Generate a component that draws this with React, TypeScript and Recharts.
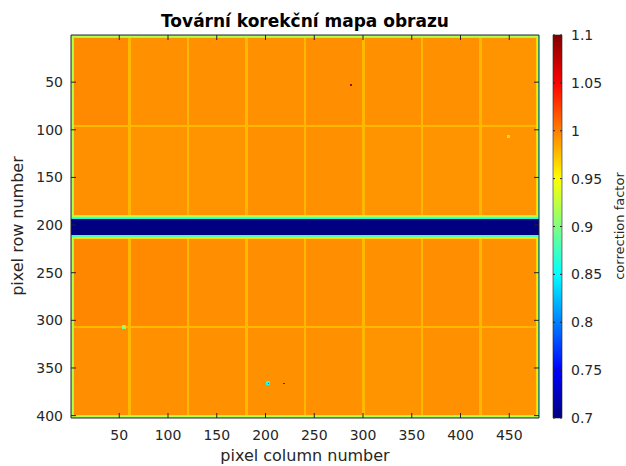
import React from 'react';
import { ComposedChart, XAxis, YAxis, ReferenceArea, Scatter } from 'recharts';

// image size (pixels of the sensor map)
const nCols = 480;
const nRows = 402;

const xTicks = [50, 100, 150, 200, 250, 300, 350, 400, 450];
const yTicks = [50, 100, 150, 200, 250, 300, 350, 400];
const cbTicks = [0.7, 0.75, 0.8, 0.85, 0.9, 0.95, 1, 1.05, 1.1];

// sensor tiles: column edges, row blocks, mean correction per tile
const tileColEdges = [0.5, 60.5, 120.5, 180.5, 240.5, 300.5, 360.5, 420.5, 480.5];
const tileRowBlocks = [
  [0.5, 96.5],
  [96.5, 192.5],
  [211.5, 307.5],
  [307.5, 402.5],
];
const tileValues = [
  [0.996, 0.993, 0.993, 0.993, 0.994, 0.993, 0.993, 0.992],
  [0.993, 0.992, 0.992, 0.993, 0.993, 0.992, 0.992, 0.992],
  [0.997, 0.996, 0.994, 0.994, 0.994, 0.993, 0.994, 0.993],
  [0.994, 0.993, 0.993, 0.993, 0.993, 0.992, 0.993, 0.992],
];

// seams between tiles
const seamCols = [60, 120, 180, 240, 300, 360, 420];
const seamRows = [96, 307];
const seamValue = 0.978;

// two image halves and the blind band between them
const halves = [
  [0.5, 192.5],
  [211.5, 402.5],
];
const bandRows = [192.5, 193.5, 210.5, 211.5];
const bandValues = [0.86, 0.7, 0.88];

// correction per pixel from the image border inwards
const edgeValues = [0.88, 0.92, 0.965];

// isolated defective pixels
const defects = [
  { col: 449, row: 107, size: 3, value: 0.965 },
  { col: 55, row: 307, size: 4, value: 0.9 },
  { col: 55, row: 307, size: 2, value: 0.96 },
  { col: 203, row: 366, size: 4, value: 0.86 },
  { col: 203, row: 366, size: 1.5, value: 0.78 },
  { col: 288, row: 53, size: 2, value: 1.08 },
  { col: 219, row: 366, size: 1.5, value: 1.07 },
];

const ink = '#262626';
const font = 'DejaVu Sans, sans-serif';

const clamp = (v: number) => Math.max(0, Math.min(1, v));
const jet = (v: number) => {
  const t = clamp((v - 0.7) / 0.4);
  const r = Math.round(255 * clamp(1.5 - Math.abs(4 * t - 3)));
  const g = Math.round(255 * clamp(1.5 - Math.abs(4 * t - 2)));
  const b = Math.round(255 * clamp(1.5 - Math.abs(4 * t - 1)));
  return `rgb(${r},${g},${b})`;
};

type Cell = { x1: number; x2: number; y1: number; y2: number; v: number };

const buildCells = (): Cell[] => {
  const cells: Cell[] = [];
  tileRowBlocks.forEach(([y1, y2], i) => {
    for (let j = 0; j < tileColEdges.length - 1; j++) {
      cells.push({ x1: tileColEdges[j], x2: tileColEdges[j + 1], y1, y2, v: tileValues[i][j] });
    }
  });
  halves.forEach(([y1, y2]) => {
    seamCols.forEach((c) => cells.push({ x1: c - 0.8, x2: c + 1.8, y1, y2, v: seamValue }));
  });
  seamRows.forEach((r) => cells.push({ x1: 0.5, x2: nCols + 0.5, y1: r - 0.8, y2: r + 1.3, v: seamValue }));
  // border falloff, innermost first so the outer pixels end on top
  for (let k = edgeValues.length - 1; k >= 0; k--) {
    const v = edgeValues[k];
    halves.forEach(([y1, y2]) => {
      cells.push({ x1: 0.5 + k, x2: 1.5 + k, y1, y2, v });
      cells.push({ x1: nCols - 0.5 - k, x2: nCols + 0.5 - k, y1, y2, v });
      cells.push({ x1: 0.5, x2: nCols + 0.5, y1: y1 + k, y2: y1 + k + 1, v });
      cells.push({ x1: 0.5, x2: nCols + 0.5, y1: y2 - k - 1, y2: y2 - k, v });
    });
  }
  for (let i = 0; i < bandValues.length; i++) {
    cells.push({ x1: 0.5, x2: nCols + 0.5, y1: bandRows[i], y2: bandRows[i + 1], v: bandValues[i] });
  }
  defects.forEach((d) =>
    cells.push({
      x1: d.col - d.size / 2,
      x2: d.col + d.size / 2,
      y1: d.row - d.size / 2,
      y2: d.row + d.size / 2,
      v: d.value,
    })
  );
  return cells;
};

const cells = buildCells();
const corners = [
  { x: 0.5, y: 0.5 },
  { x: nCols + 0.5, y: nRows + 0.5 },
];
const cbCorners = [
  { x: 0, y: 0.7 },
  { x: 1, y: 1.1 },
];

const BottomTick = ({ x, y, payload }: any) => (
  <g>
    <line x1={x} y1={y} x2={x} y2={y - 5} stroke={ink} strokeWidth={1} />
    <text x={x} y={y + 22} textAnchor="middle" fill={ink} fontSize={14} fontFamily={font}>
      {payload.value}
    </text>
  </g>
);
const TopTick = ({ x, y }: any) => <line x1={x} y1={y} x2={x} y2={y + 5} stroke={ink} strokeWidth={1} />;
const LeftTick = ({ x, y, payload }: any) => (
  <g>
    <line x1={x} y1={y} x2={x + 5} y2={y} stroke={ink} strokeWidth={1} />
    <text x={x - 8} y={y + 5} textAnchor="end" fill={ink} fontSize={14} fontFamily={font}>
      {payload.value}
    </text>
  </g>
);
const RightTick = ({ x, y }: any) => <line x1={x} y1={y} x2={x - 5} y2={y} stroke={ink} strokeWidth={1} />;
const ColorbarTick = ({ x, y, payload }: any) => (
  <g>
    <line x1={x} y1={y} x2={x - 2} y2={y} stroke={ink} strokeWidth={1} />
    <line x1={x - 9} y1={y} x2={x - 7} y2={y} stroke={ink} strokeWidth={1} />
    <text x={x + 9} y={y + 5} textAnchor="start" fill={ink} fontSize={14} fontFamily={font}>
      {payload.value}
    </text>
  </g>
);

const abs: React.CSSProperties = { position: 'absolute', left: 0, top: 0 };

export default function App() {
  return (
    <div style={{ position: 'fixed', left: 0, top: 0, width: 626, height: 466, background: '#fff' }}>
      <div style={abs}>
        <ComposedChart width={626} height={466} margin={{ top: 34, right: 86, bottom: 0, left: 0 }}>
          {cells.map((c, i) => (
            <ReferenceArea
              key={i}
              x1={c.x1}
              x2={c.x2}
              y1={c.y1}
              y2={c.y2}
              fill={jet(c.v)}
              fillOpacity={1}
              stroke="none"
              ifOverflow="hidden"
              shapeRendering="crispEdges"
            />
          ))}
          <Scatter data={corners} dataKey="y" isAnimationActive={false} shape={() => <g />} />
          <XAxis
            type="number"
            dataKey="x"
            domain={[0.5, nCols + 0.5]}
            ticks={xTicks}
            allowDataOverflow
            height={48}
            tickSize={0}
            tickMargin={0}
            tickLine={false}
            tick={<BottomTick />}
            axisLine={{ stroke: ink }}
          />
          <XAxis
            xAxisId="top"
            orientation="top"
            type="number"
            dataKey="x"
            domain={[0.5, nCols + 0.5]}
            ticks={xTicks}
            allowDataOverflow
            height={1}
            tickSize={0}
            tickMargin={0}
            tickLine={false}
            tick={<TopTick />}
            axisLine={{ stroke: ink }}
          />
          <YAxis
            type="number"
            dataKey="y"
            domain={[0.5, nRows + 0.5]}
            reversed
            ticks={yTicks}
            allowDataOverflow
            width={71}
            tickSize={0}
            tickMargin={0}
            tickLine={false}
            tick={<LeftTick />}
            axisLine={{ stroke: ink }}
          />
          <YAxis
            yAxisId="right"
            orientation="right"
            type="number"
            dataKey="y"
            domain={[0.5, nRows + 0.5]}
            reversed
            ticks={yTicks}
            allowDataOverflow
            width={1}
            tickSize={0}
            tickMargin={0}
            tickLine={false}
            tick={<RightTick />}
            axisLine={{ stroke: ink }}
          />
        </ComposedChart>
      </div>
      <div style={abs}>
        <ComposedChart width={626} height={466} margin={{ top: 35, right: 0, bottom: 48, left: 553 }}>
          <defs>
            <linearGradient id="jetGrad" x1="0" y1="1" x2="0" y2="0">
              {cbTicks.map((t, i) => (
                <stop key={i} offset={`${(i / (cbTicks.length - 1)) * 100}%`} stopColor={jet(t)} />
              ))}
            </linearGradient>
          </defs>
          <ReferenceArea
            x1={0}
            x2={1}
            y1={0.7}
            y2={1.1}
            fill="url(#jetGrad)"
            fillOpacity={1}
            stroke={ink}
            strokeWidth={0.6}
            ifOverflow="visible"
          />
          <Scatter data={cbCorners} dataKey="y" isAnimationActive={false} shape={() => <g />} />
          <XAxis type="number" dataKey="x" domain={[0, 1]} allowDataOverflow hide />
          <YAxis
            orientation="right"
            type="number"
            dataKey="y"
            domain={[0.7, 1.1]}
            ticks={cbTicks}
            allowDataOverflow
            width={64}
            tickSize={0}
            tickMargin={0}
            tickLine={false}
            axisLine={false}
            tick={<ColorbarTick />}
          />
        </ComposedChart>
      </div>
      <svg width={626} height={466} style={{ ...abs, pointerEvents: 'none' }}>
        <text x={305} y={27} textAnchor="middle" fill="#000" fontSize={17} fontWeight="bold" fontFamily={font}>
          Tovární korekční mapa obrazu
        </text>
        <text x={305} y={461} textAnchor="middle" fill={ink} fontSize={16} fontFamily={font}>
          pixel column number
        </text>
        <text
          x={23}
          y={226}
          textAnchor="middle"
          fill={ink}
          fontSize={16}
          fontFamily={font}
          transform="rotate(-90 23 226)"
        >
          pixel row number
        </text>
        <text
          x={624}
          y={226}
          textAnchor="middle"
          fill={ink}
          fontSize={13}
          fontFamily={font}
          transform="rotate(-90 624 226)"
        >
          correction factor
        </text>
      </svg>
    </div>
  );
}
